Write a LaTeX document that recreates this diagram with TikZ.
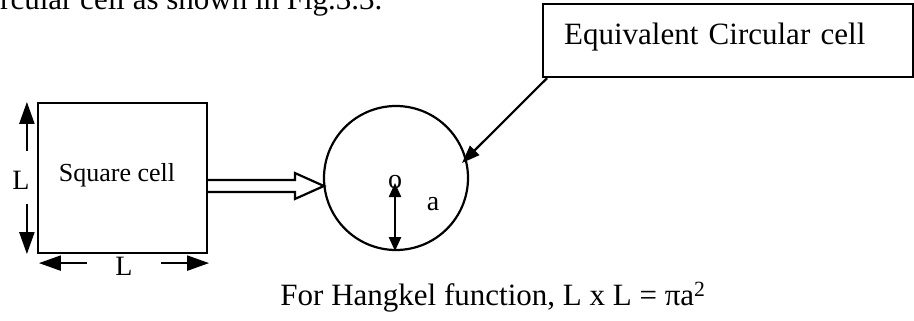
\documentclass[tikz,border=0pt]{standalone}
\usepackage{fontspec}
\setmainfont{Liberation Serif}
\usetikzlibrary{arrows.meta,calc}
\tikzset{
  big/.style={font=\fontsize{31}{36}\selectfont},
  mid/.style={font=\fontsize{28}{32}\selectfont},
  small/.style={font=\fontsize{26}{30}\selectfont},
  ln/.style={line width=2.2pt},
  tip/.style={ln,-{Triangle[length=22pt,width=15pt]}},
  tipb/.style={ln,{Triangle[length=14pt,width=12pt]}-{Triangle[length=14pt,width=12pt]}},
  tipp/.style={ln,-{Triangle[length=18pt,width=13pt]}},
}
\begin{document}
\begin{tikzpicture}[x=1pt,y=-1pt]
\useasboundingbox (0,0) rectangle (914,321);
\clip (0,0) rectangle (914,321);
% cropped line of text at the top
\node[big,anchor=base west,inner sep=0] (toptext) at (0,10) {rcular cell as shown in Fig.3.3.};
% square cell
\node[draw,ln,minimum width=169pt,minimum height=150pt,inner sep=0,small] (sq) at (122.5,178) {};
\node[small,inner sep=0] (sqtxt) at (117,175) {Square cell};
% circle
\node[draw,ln,circle,minimum size=144pt,inner sep=0] (circ) at (396,178) {};
% equivalent box
\node[draw,ln,big,anchor=north west,text width=328pt,align=left,inner xsep=21pt,inner ysep=0pt,text height=40pt,text depth=33pt] (eq) at (542,3) {Equivalent Circular cell};
% L vertical
\node[mid,inner sep=0] (lv) at (21,180) {L};
\draw[tip] ($(sq.north west)+(-10,49)$) -- ($(sq.north west)+(-10,0)$);
\draw[tip] ($(sq.south west)+(-10,-50)$) -- ($(sq.south west)+(-10,0)$);
% L horizontal
\node[mid,inner sep=0] (lh) at (124,266) {L};
\draw[tip] ($(sq.south west)+(50,9)$) -- ($(sq.south west)+(2,9)$);
\draw[tip] ($(sq.south east)+(-47,9)$) -- ($(sq.south east)+(1,9)$);
% hollow double arrow
\draw[ln,line join=miter] ($(sq.east)+(0,2)$) -- ($(circ.west)+(-28,2)$) -- ($(circ.west)+(-28,-5)$) -- ($(circ.west)+(1,8)$) -- ($(circ.west)+(-28,21)$) -- ($(circ.west)+(-28,14)$) -- ($(sq.east)+(0,14)$);
% radius
\node[mid,inner sep=0] (o) at (395,182) {o};
\node[mid,inner sep=0] (a) at (433,204) {a};
\draw[tipb] ($(circ.center)+(-1,5)$) -- ($(circ.south)+(-1,0)$);
% pointer
\draw[tipp] ($(eq.south west)+(5,0)$) -- ($(circ.center)+(66,-15)$);
% caption
\node[big,inner sep=0] (cap) at (493,297) {For Hangkel function, L x L = πa\textsuperscript{2}};
\end{tikzpicture}
\end{document}
